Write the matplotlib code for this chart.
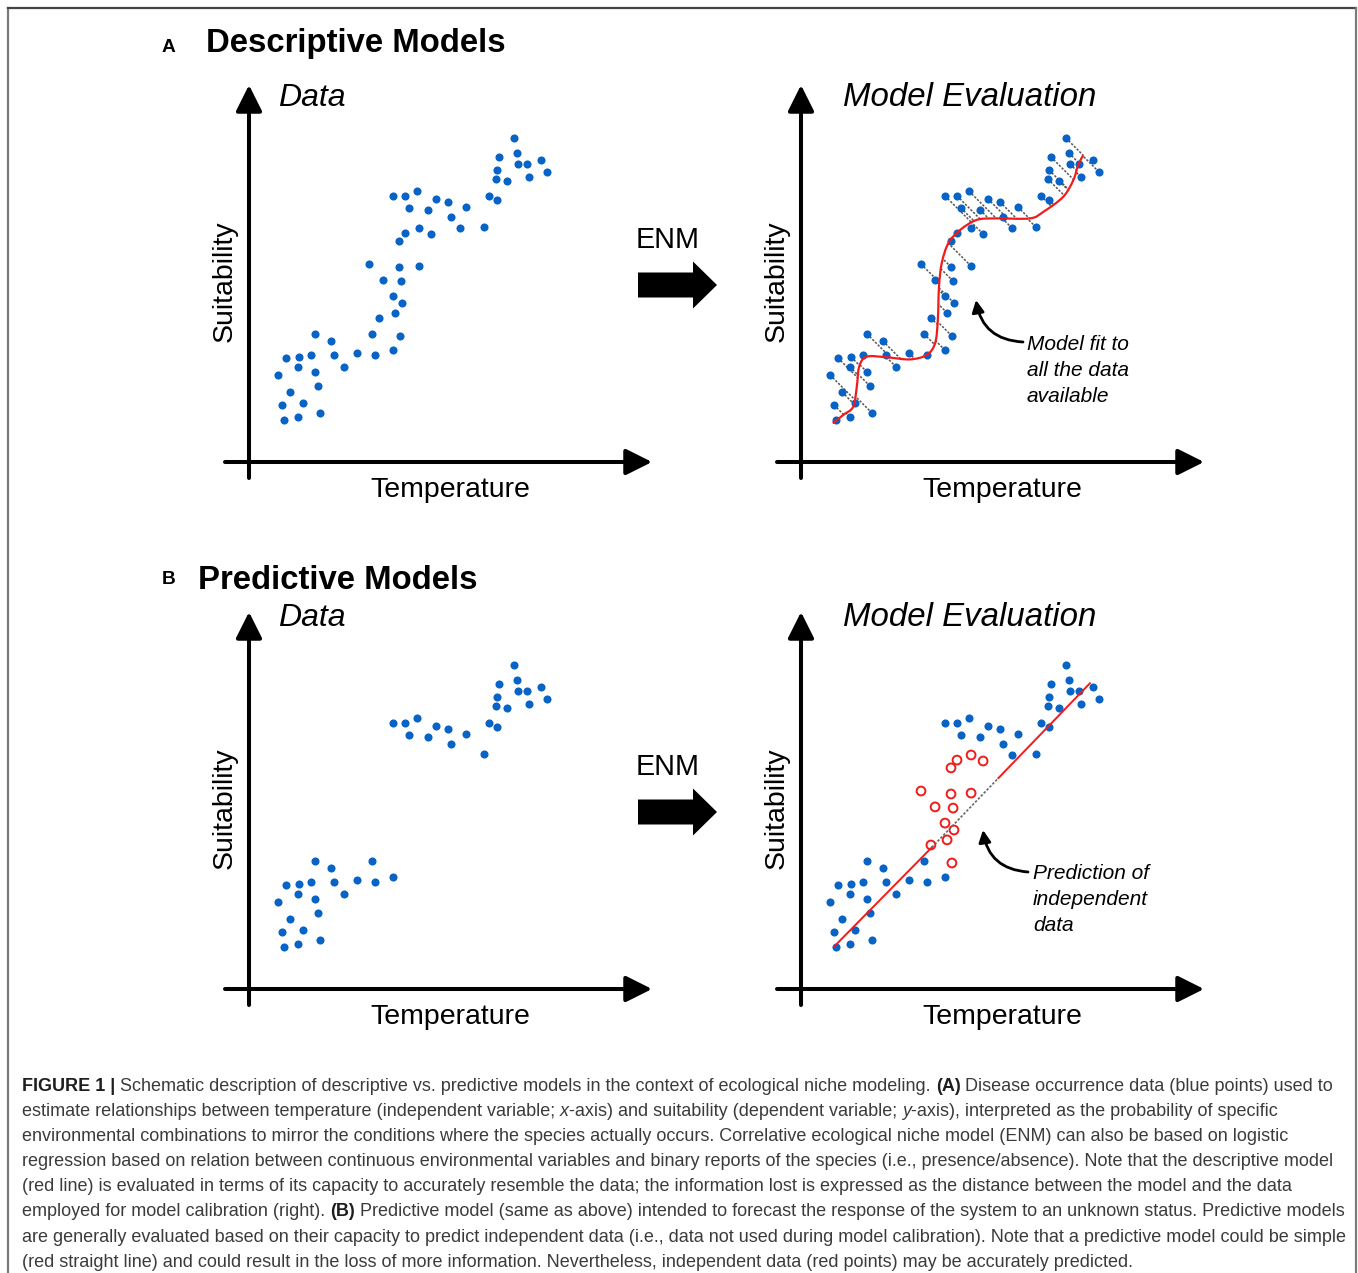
import matplotlib
matplotlib.use('Agg')
import matplotlib.pyplot as plt
from matplotlib import font_manager
from matplotlib.patches import FancyArrow, PathPatch
from matplotlib.path import Path
import numpy as np

upper_T = [8.83, 8.33, 8.93, 8.27, 8.97, 9.27, 9.73, 9.93, 8.23, 8.60, 9.33, 8.00, 8.27,
           4.80, 5.20, 5.60, 6.23, 6.63, 7.23, 5.33, 5.97, 6.73, 7.83, 7.03]
upper_S = [10.80, 10.17, 10.30, 9.73, 9.93, 9.93, 10.07, 9.67, 9.43, 9.37, 9.50, 8.87, 8.73,
           8.87, 8.87, 9.03, 8.77, 8.67, 8.50, 8.47, 8.40, 8.17, 7.83, 7.80]
# points used as independent data in panel B (red circles)
middle_T = [5.67, 6.07, 5.20, 5.00, 4.00, 5.00, 5.67, 4.47, 5.07, 4.80, 5.10, 4.87, 4.33, 5.03]
middle_S = [7.80, 7.60, 7.63, 7.37, 6.60, 6.50, 6.53, 6.07, 6.03, 5.53, 5.30, 4.97, 4.80, 4.20]
lower_T = [4.80, 4.20, 3.60, 2.20, 2.73, 2.83, 3.17, 2.07, 1.67, 1.23, 1.63, 2.20, 0.97, 2.30,
           1.37, 1.10, 1.80, 2.37, 1.17, 1.63, 4.10]
lower_S = [3.73, 3.57, 3.63, 4.27, 4.03, 3.57, 3.17, 3.57, 3.50, 3.47, 3.17, 3.00, 2.90, 2.53,
           2.33, 1.90, 1.97, 1.63, 1.40, 1.50, 4.27]

# descriptive model (red curve)
fit_T = [1.06, 1.41, 1.74, 1.86, 1.94, 2.19, 2.86, 3.63, 4.19, 4.47, 4.56, 4.60, 4.69, 4.91,
         5.30, 5.86, 6.52, 7.63, 8.08, 8.74, 9.08, 9.24, 9.41]
fit_S = [1.29, 1.57, 1.84, 2.51, 3.18, 3.51, 3.49, 3.42, 3.57, 3.96, 4.73, 5.84, 6.62, 7.29,
         7.73, 8.07, 8.12, 8.12, 8.34, 8.84, 9.40, 9.90, 10.23]
# predictive model (red straight line), middle part drawn dotted
line_T = [1.10, 4.36, 6.58, 9.63]
line_S = [1.41, 4.72, 7.03, 10.19]

W, H = 1358, 1273
BLUE = '#0863c6'
RED = '#f21b1b'

names = {f.name for f in font_manager.fontManager.ttflist}
FONT = 'Liberation Sans' if 'Liberation Sans' in names else 'DejaVu Sans'
CAPFONT = 'Liberation Sans Narrow' if 'Liberation Sans Narrow' in names else FONT
plt.rcParams['font.family'] = FONT

fig = plt.figure(figsize=(W / 100, H / 100), dpi=100)
bg = fig.add_axes([0, 0, 1, 1])
bg.set_xlim(0, W)
bg.set_ylim(H, 0)
bg.axis('off')

# frame around the figure
bg.plot([8, 8], [8, H], color='#7a7a7a', lw=1.6)
bg.plot([8, 1356], [8, 8], color='#444444', lw=1.6)
bg.plot([1356, 1356], [8, H], color='#7a7a7a', lw=1.6)


def make_panel(ox, oy, title, title_base):
    ax = fig.add_axes([(ox - 30) / W, 1 - (oy + 20) / H, 440 / W, 405 / H])
    ax.set_xlim(-1, 410 / 30)
    ax.set_ylim(-20 / 30, 385 / 30)
    ax.axis('off')
    arr = dict(arrowstyle='-|>', lw=2.9, color='k', mutation_scale=40, shrinkA=0, shrinkB=0)
    ax.annotate('', xy=(0, 377 / 30), xytext=(0, -16 / 30), arrowprops=arr)
    ax.annotate('', xy=(403 / 30, 0), xytext=(-24 / 30, 0), arrowprops=arr)
    bg.text(ox - 24, oy - 181, 'Suitability', rotation=90, ha='center', va='center', fontsize=20.5)
    bg.text(ox + 201, oy + 35, 'Temperature', ha='center', va='baseline', fontsize=20.5)
    if title == 'Data':
        bg.text(ox + 29, title_base, title, ha='left', va='baseline', fontsize=23, style='italic')
    else:
        bg.text(ox + 42, title_base, title, ha='left', va='baseline', fontsize=23.8, style='italic')
    return ax


def enm_arrow(oy):
    bg.text(668, oy - 214, 'ENM', ha='center', va='baseline', fontsize=20.7)
    bg.add_patch(FancyArrow(638, oy - 177, 79, 0, width=25, head_width=47, head_length=24,
                            length_includes_head=True, color='k', lw=0))


def smooth_path(xs, ys):
    # Catmull-Rom through the read points, drawn as cubic Bezier segments
    P = np.column_stack([xs, ys])
    verts, codes = [P[0]], [Path.MOVETO]
    for i in range(len(P) - 1):
        p0 = P[i - 1] if i > 0 else P[i]
        p3 = P[i + 2] if i + 2 < len(P) else P[i + 1]
        verts += [P[i] + (P[i + 1] - p0) / 6, P[i + 1] - (p3 - P[i]) / 6, P[i + 1]]
        codes += [Path.CURVE4] * 3
    return Path(verts, codes)


# ---- A: descriptive models
bg.text(162, 52, 'A', fontsize=13.8, fontweight='bold', va='baseline')
bg.text(206, 52, 'Descriptive Models', fontsize=23.7, fontweight='bold', va='baseline')
all_T = upper_T + middle_T + lower_T
all_S = upper_S + middle_S + lower_S

ax = make_panel(249, 462, 'Data', 106)
ax.scatter(all_T, all_S, s=34, color=BLUE, lw=0, zorder=3)
enm_arrow(462)

ax = make_panel(801, 462, 'Model Evaluation', 106)
ax.scatter(all_T, all_S, s=34, color=BLUE, lw=0, zorder=3)
ax.add_patch(PathPatch(smooth_path(fit_T, fit_S), fill=False, edgecolor=RED, lw=1.6, zorder=4))
# residuals: from each point diagonally to the model curve
tt = np.linspace(-4, 4, 1601)
for T, S in zip(all_T, all_S):
    ok = (T + tt >= fit_T[0]) & (T + tt <= fit_T[-1])
    if not ok.any():
        continue
    t = tt[ok]
    f = (S - t) - np.interp(T + t, fit_T, fit_S)
    idx = np.where(np.sign(f[:-1]) != np.sign(f[1:]))[0]
    if len(idx) == 0:
        continue
    t0 = t[idx[np.argmin(np.abs(t[idx]))]]
    ax.plot([T, T + t0], [S, S - t0], color='#555555', lw=1.1, ls=(0, (1.5, 1)), zorder=2)
bg.annotate('', xy=(976, 300), xytext=(1023, 342),
            arrowprops=dict(arrowstyle='-|>', lw=2, color='k', mutation_scale=18,
                            connectionstyle='arc3,rad=-0.4', shrinkA=0, shrinkB=0))
for i, s in enumerate(['Model fit to', 'all the data', 'available']):
    bg.text(1027, 350 + 26 * i, s, fontsize=15, style='italic', va='baseline')

# ---- B: predictive models
bg.text(162, 584, 'B', fontsize=13.8, fontweight='bold', va='baseline')
bg.text(198, 589, 'Predictive Models', fontsize=23.7, fontweight='bold', va='baseline')

ax = make_panel(249, 989, 'Data', 626)
ax.scatter(upper_T[:-1] + lower_T, upper_S[:-1] + lower_S, s=34, color=BLUE, lw=0, zorder=3)
enm_arrow(989)

ax = make_panel(801, 989, 'Model Evaluation', 626)
ax.scatter(upper_T + lower_T, upper_S + lower_S, s=34, color=BLUE, lw=0, zorder=3)
ax.scatter(middle_T, middle_S, s=40, facecolor='none', edgecolor=RED, lw=1.4, zorder=3)
ax.plot(line_T[:2], line_S[:2], color=RED, lw=1.4, zorder=4)
ax.plot(line_T[2:], line_S[2:], color=RED, lw=1.4, zorder=4)
ax.plot(line_T[1:3], line_S[1:3], color='#666666', lw=1.2, ls=(0, (1.5, 1)), zorder=4)
bg.annotate('', xy=(983, 830), xytext=(1028, 872),
            arrowprops=dict(arrowstyle='-|>', lw=2, color='k', mutation_scale=18,
                            connectionstyle='arc3,rad=-0.4', shrinkA=0, shrinkB=0))
for i, s in enumerate(['Prediction of', 'independent', 'data']):
    bg.text(1033, 879 + 26 * i, s, fontsize=15, style='italic', va='baseline')

# ---- caption
caption = [
    [('FIGURE 1 |', 'b'), (' Schematic description of descriptive vs. predictive models in the context of '
                           'ecological niche modeling. ', 'n'), ('(A)', 'b'),
     (' Disease occurrence data (blue points) used to', 'n')],
    [('estimate relationships between temperature (independent variable; ', 'n'), ('x', 'i'),
     ('-axis) and suitability (dependent variable; ', 'n'), ('y', 'i'),
     ('-axis), interpreted as the probability of specific', 'n')],
    [('environmental combinations to mirror the conditions where the species actually occurs. '
      'Correlative ecological niche model (ENM) can also be based on logistic', 'n')],
    [('regression based on relation between continuous environmental variables and binary reports '
      'of the species (i.e., presence/absence). Note that the descriptive model', 'n')],
    [('(red line) is evaluated in terms of its capacity to accurately resemble the data; the '
      'information lost is expressed as the distance between the model and the data', 'n')],
    [('employed for model calibration (right). ', 'n'), ('(B)', 'b'),
     (' Predictive model (same as above) intended to forecast the response of the system to an '
      'unknown status. Predictive models', 'n')],
    [('are generally evaluated based on their capacity to predict independent data (i.e., data not '
      'used during model calibration). Note that a predictive model could be simple', 'n')],
    [('(red straight line) and could result in the loss of more information. Nevertheless, '
      'independent data (red points) may be accurately predicted.', 'n')],
]
renderer = fig.canvas.get_renderer()


def style_kw(st, size):
    kw = dict(fontsize=size, family=CAPFONT)
    if st == 'b':
        kw.update(fontweight='bold', color='#1e1e1e')
    else:
        kw.update(color='#3b3b3b')
    if st == 'i':
        kw['style'] = 'italic'
    return kw


def width(s, kw):
    t1 = bg.text(0, 0, s + '|', **kw)
    t2 = bg.text(0, 0, '|', **kw)
    w = t1.get_window_extent(renderer).width - t2.get_window_extent(renderer).width
    t1.remove()
    t2.remove()
    return w


base = 12
w1 = sum(width(s, style_kw(st, base)) for s, st in caption[0])
size = base * 1315 / w1
for i, line in enumerate(caption):
    x = 22
    for s, st in line:
        kw = style_kw(st, size)
        bg.text(x, 1091 + 25.1 * i, s, va='baseline', ha='left', **kw)
        x += width(s, kw)

fig.savefig('out.png', dpi=100)
